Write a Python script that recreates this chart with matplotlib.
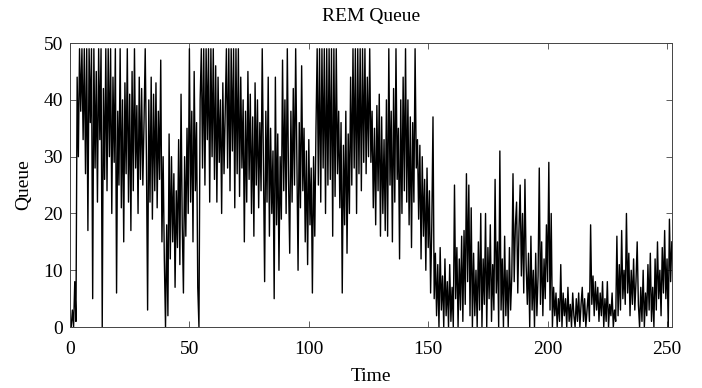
import numpy as np
import matplotlib as mpl
mpl.use("Agg")
import matplotlib.pyplot as plt

time_step = 0.5
queue = [
    0, 0, 3, 0, 8, 1, 44, 30, 49, 38, 49, 33, 49, 27, 49, 17, 49, 36, 49, 5,
    49, 28, 45, 22, 49, 33, 49, 0, 42, 26, 49, 24, 49, 30, 49, 20, 44, 29, 49, 6,
    38, 25, 49, 21, 40, 15, 43, 27, 49, 22, 41, 17, 45, 24, 49, 28, 39, 20, 44, 26,
    42, 25, 36, 49, 30, 3, 40, 22, 44, 19, 41, 24, 43, 21, 38, 26, 47, 15, 30, 12,
    0, 18, 2, 34, 12, 30, 15, 27, 7, 24, 14, 33, 11, 41, 18, 6, 30, 16, 35, 20,
    49, 22, 38, 15, 45, 24, 36, 7, 0, 40, 49, 28, 49, 25, 49, 33, 49, 22, 49, 30,
    49, 26, 46, 22, 44, 29, 40, 20, 43, 27, 38, 49, 28, 49, 24, 49, 31, 49, 21, 49,
    27, 49, 23, 44, 28, 40, 15, 38, 22, 45, 26, 41, 20, 37, 16, 43, 25, 40, 21, 36,
    24, 49, 28, 8, 38, 22, 44, 16, 35, 20, 31, 5, 44, 18, 34, 10, 30, 19, 47, 24,
    40, 20, 49, 26, 13, 38, 22, 42, 25, 49, 30, 10, 36, 21, 46, 24, 35, 15, 31, 11,
    33, 18, 28, 6, 30, 16, 35, 49, 25, 49, 22, 49, 28, 49, 20, 49, 25, 49, 26, 49,
    16, 49, 23, 49, 27, 38, 21, 36, 6, 32, 18, 38, 13, 34, 20, 44, 25, 49, 28, 49,
    20, 49, 27, 49, 24, 49, 29, 49, 27, 44, 30, 49, 29, 38, 21, 35, 18, 39, 24, 41,
    16, 37, 20, 33, 17, 40, 16, 49, 25, 38, 15, 42, 22, 49, 26, 35, 12, 40, 20, 44,
    24, 49, 22, 40, 18, 37, 14, 36, 22, 49, 28, 33, 19, 32, 12, 30, 16, 26, 10, 28,
    14, 24, 6, 18, 37, 5, 13, 2, 11, 0, 14, 3, 9, 0, 12, 2, 8, 0, 11, 1,
    7, 0, 25, 5, 14, 0, 12, 3, 16, 1, 17, 4, 27, 8, 25, 2, 21, 0, 13, 2,
    10, 0, 15, 3, 20, 0, 12, 4, 20, 0, 14, 5, 18, 1, 11, 3, 26, 6, 15, 0,
    31, 3, 12, 0, 16, 2, 10, 0, 14, 3, 9, 27, 8, 18, 22, 6, 17, 25, 9, 20,
    6, 26, 11, 4, 13, 0, 16, 3, 10, 0, 13, 2, 9, 28, 4, 15, 2, 12, 5, 18,
    8, 29, 3, 20, 0, 7, 2, 6, 0, 5, 1, 11, 0, 6, 2, 5, 0, 7, 1, 4,
    0, 6, 2, 0, 5, 1, 6, 0, 4, 7, 1, 5, 0, 3, 6, 1, 18, 4, 9, 2,
    8, 3, 7, 1, 6, 2, 8, 0, 5, 1, 8, 0, 4, 2, 6, 0, 3, 1, 16, 2,
    11, 3, 17, 5, 10, 4, 20, 6, 13, 2, 10, 4, 12, 3, 8, 15, 4, 0, 7, 1,
    10, 0, 6, 2, 11, 3, 13, 1, 7, 0, 12, 3, 15, 5, 10, 2, 14, 6, 17, 5,
    12, 0, 19, 8, 15,
]
time = np.arange(len(queue)) * time_step

plt.rcParams['font.family'] = ['Liberation Serif', 'DejaVu Serif']

fig = plt.figure(figsize=(7.02, 3.88), dpi=100)
ax = fig.add_axes([0.0997, 0.157, 0.8573, 0.732])

ax.plot(time, queue, color='black', linewidth=1.0)

ax.set_xlim(0, 252)
ax.set_ylim(0, 50)
ax.set_xticks([0, 50, 100, 150, 200, 250])
ax.set_yticks([0, 10, 20, 30, 40, 50])
ax.tick_params(direction='in', top=True, right=True, length=4, width=0.6,
               labelsize=14, colors='#444444', labelcolor='black')
ax.tick_params(axis='x', pad=10)
ax.tick_params(axis='y', pad=5)
for sp in ax.spines.values():
    sp.set_linewidth(0.7)
    sp.set_color('#444444')

ax.set_title('REM Queue', fontsize=14, pad=16)
ax.set_xlabel('Time', fontsize=14, labelpad=7)
ax.set_ylabel('Queue', fontsize=14, labelpad=8)

fig.savefig('out.png', dpi=100)
